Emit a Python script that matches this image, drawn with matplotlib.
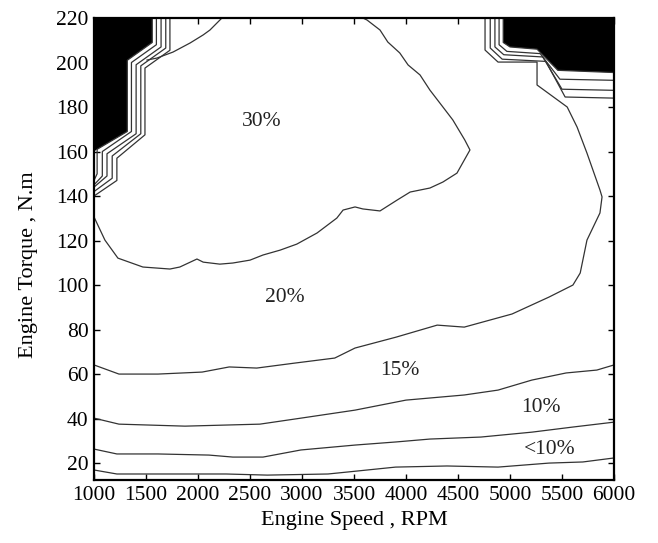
import matplotlib
matplotlib.use("Agg")
import matplotlib.pyplot as plt

# ---------------- data (rpm, torque N.m) ----------------
x_ticks = [1000, 1500, 2000, 2500, 3000, 3500, 4000, 4500, 5000, 5500, 6000]
y_ticks = [20, 40, 60, 80, 100, 120, 140, 160, 180, 200, 220]

# lowest line
lineD_rpm = [1000, 1220, 1615, 2270, 2665, 3250, 3440, 3900, 4395, 4885, 5375, 5700, 6000]
lineD_tq = [16.9, 15.1, 15.1, 15.1, 14.6, 15.1, 16.0, 18.2, 18.7, 18.2, 20.0, 20.5, 22.3]

lineC_rpm = [1000, 1220, 1615, 2105, 2335, 2625, 2990, 3510, 3905, 4230, 4720, 5210, 5605, 6000]
lineC_tq = [26.3, 24.1, 24.1, 23.6, 22.7, 22.7, 25.9, 28.1, 29.5, 30.8, 31.7, 33.9, 36.2, 38.4]

lineB_rpm = [1000, 1240, 1875, 2595, 2990, 3510, 4000, 4560, 4885, 5210, 5540, 5835, 6000]
lineB_tq = [40.2, 37.5, 36.6, 37.5, 40.2, 43.8, 48.3, 50.6, 52.8, 57.3, 60.5, 61.8, 64.1]

# 20 % contour (runs up the right side into the top-right staircase)
lineA_rpm = [1000, 1240, 1615, 2040, 2300, 2565, 2925, 3315, 3510, 3905, 4300, 4560,
             5020, 5375, 5605, 5675, 5740, 5865, 5885, 5865, 5740, 5645, 5550, 5260,
             5260, 4885, 4760, 4760]
lineA_tq = [64.1, 60.0, 60.0, 60.9, 63.2, 62.7, 64.9, 67.2, 71.7, 76.6, 82.0, 81.1,
            87.0, 94.6, 100.0, 105.4, 120.2, 132.4, 139.6, 142.7, 159.3, 171.0, 180.0, 189.9,
            200.2, 200.2, 205.6, 220.0]

# 30 % contour
line30_rpm = [1000, 1105, 1230, 1470, 1730, 1825, 1990, 2050, 2210, 2335, 2500, 2625,
              2790, 2950, 3145, 3335, 3395, 3510, 3585, 3750, 3915, 4040, 4230, 4355,
              4490, 4550, 4615, 4565, 4450, 4355, 4230, 4135, 4020, 3940, 3825, 3750,
              3625, 3585]
line30_tq = [130.6, 120.2, 112.1, 108.1, 107.2, 108.1, 111.7, 110.3, 109.4, 109.9, 111.2,
             113.5, 115.7, 118.4, 123.4, 130.1, 133.7, 135.1, 134.2, 133.3, 138.2, 141.8,
             143.6, 146.3, 150.3, 155.3, 160.7, 165.2, 174.2, 180.0, 187.6, 194.4, 198.9,
             204.3, 209.2, 214.6, 219.1, 220.0]

# short upper contour near top-left
line35_rpm = [1510, 1605, 1760, 1925, 2050, 2115, 2230]
line35_tq = [201.1, 202.0, 204.7, 208.8, 212.4, 214.6, 220.0]

# top-left staircase lines
tl_rpm = [
    [1560, 1560, 1320, 1320, 1030, 1030, 1000],
    [1600, 1600, 1360, 1360, 1080, 1080, 1000],
    [1645, 1645, 1405, 1405, 1125, 1125, 1000],
    [1690, 1690, 1450, 1450, 1175, 1175, 1000],
    [1730, 1730, 1490, 1490, 1220, 1220, 1000],
]
tl_tq = [
    [220, 209.0, 201.0, 169.0, 161.0, 150.0, 147.0],
    [220, 208.0, 200.0, 169.0, 160.0, 149.0, 145.0],
    [220, 207.0, 199.0, 168.0, 159.0, 149.0, 144.0],
    [220, 206.5, 198.5, 168.0, 158.0, 148.0, 142.0],
    [220, 205.5, 197.5, 167.5, 157.0, 147.0, 140.0],
]
tl_black_rpm = [1000, 1560, 1560, 1320, 1320, 1030, 1000]
tl_black_tq = [220, 220, 209.0, 201.0, 169.0, 161.0, 160.0]

# top-right staircase lines
tr_rpm = [
    [4935, 4935, 5000, 5260, 5460, 6000],
    [4895, 4895, 4970, 5290, 5480, 6000],
    [4855, 4855, 4940, 5315, 5500, 6000],
    [4810, 4810, 4925, 5345, 5530, 6000],
]
tr_tq = [
    [220, 209.0, 207.0, 206.0, 196.5, 195.5],
    [220, 208.0, 205.0, 204.0, 192.5, 192.0],
    [220, 207.0, 203.5, 202.5, 188.0, 187.5],
    [220, 206.5, 201.5, 200.5, 184.5, 184.0],
]
tr_black_rpm = [4935, 6000, 6000, 5460, 5260, 5000, 4935]
tr_black_tq = [220, 220, 195.5, 196.5, 206.0, 207.0, 209.0]

label_text = ["30%", "20%", "15%", "10%", "<10%"]
label_rpm = [2615, 2836, 3942, 5298, 5385]
label_tq = [173.3, 94.2, 61.8, 45.2, 25.9]

# ---------------- drawing ----------------
plt.rcParams['font.family'] = ['Liberation Serif', 'DejaVu Serif']

fig = plt.figure(figsize=(6.58, 5.43), dpi=100)
ax = fig.add_axes([94 / 658, 63 / 543, 520 / 658, 462 / 543])

lc = '#333333'
lw = 0.9

ax.fill(tl_black_rpm, tl_black_tq, color='black', lw=0)
ax.fill(tr_black_rpm, tr_black_tq, color='black', lw=0)

for r, t in zip(tl_rpm, tl_tq):
    ax.plot(r, t, color=lc, lw=lw)
for r, t in zip(tr_rpm, tr_tq):
    ax.plot(r, t, color=lc, lw=lw)

for r, t in [(lineD_rpm, lineD_tq), (lineC_rpm, lineC_tq), (lineB_rpm, lineB_tq),
             (lineA_rpm, lineA_tq), (line30_rpm, line30_tq), (line35_rpm, line35_tq)]:
    ax.plot(r, t, color=lc, lw=lw)

for s, r, t in zip(label_text, label_rpm, label_tq):
    ax.text(r, t, s, ha='center', va='center', fontsize=15.5, color='#222222')

ax.set_xlim(1000, 6000)
ax.set_ylim(12.4, 220)
ax.set_xticks(x_ticks)
ax.set_yticks(y_ticks)
ax.tick_params(direction='in', length=4, width=1, top=True, right=True,
               labelsize=15.5, pad=4, colors='black')
for sp in ax.spines.values():
    sp.set_linewidth(1.6)
ax.set_xlabel('Engine Speed , RPM', fontsize=16, labelpad=5)
ax.set_ylabel('Engine Torque , N.m', fontsize=16, labelpad=6)
ax.yaxis.set_label_coords(-0.108, 0.465)

fig.savefig('out.png', dpi=100, facecolor='white')
